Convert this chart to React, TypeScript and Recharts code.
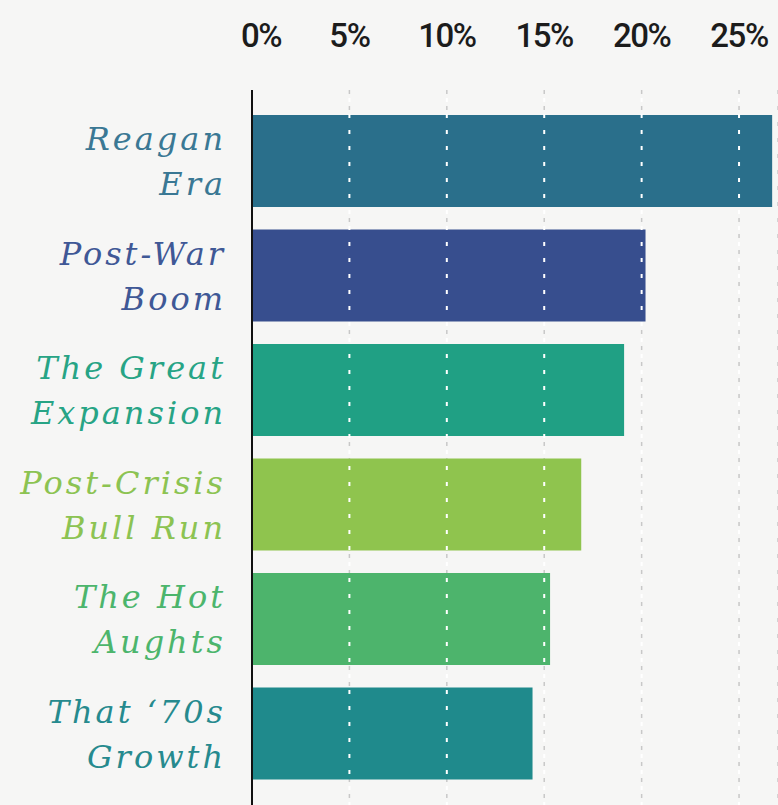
import React from 'react';
import { BarChart, Bar, XAxis, YAxis, CartesianGrid, ReferenceLine, Cell } from 'recharts';

// eras, top to bottom
const eras = [
  'Reagan\nEra',
  'Post-War\nBoom',
  'The Great\nExpansion',
  'Post-Crisis\nBull Run',
  'The Hot\nAughts',
  'That \u201870s\nGrowth',
];
// growth, in %
const growth = [26.7, 20.2, 19.1, 16.9, 15.3, 14.4];
const barColors = ['#2a6f8b', '#374e8e', '#20a084', '#8fc44e', '#4db46c', '#1f8a8c'];
const labelColors = ['#3a7894', '#3f5896', '#27a485', '#8cc352', '#4cb56c', '#268a8e'];
const xTicks = [0, 5, 10, 15, 20, 25];

const data = eras.map((name, i) => ({ name, growth: growth[i] }));

const XTick = ({ x, y, payload }: any) => (
  <text
    x={x + (payload.value === 0 ? 9 : 0)}
    y={y}
    textAnchor="middle"
    fontFamily="Roboto, sans-serif"
    fontWeight={500}
    fontSize={33}
    letterSpacing={-1.5}
    fill="#1c1c1c"
  >
    {payload.value}%
  </text>
);

const YTick = ({ x, y, payload, index }: any) => {
  const lines = String(payload.value).split('\n');
  return (
    <text
      x={x}
      y={y}
      textAnchor="end"
      fontFamily="'DejaVu Serif', serif"
      fontStyle="italic"
      fontSize={32}
      letterSpacing={3}
      fill={labelColors[index]}
    >
      <tspan x={x} dy={-11}>{lines[0]}</tspan>
      <tspan x={x} dy={45}>{lines[1]}</tspan>
    </text>
  );
};

export default function App() {
  return (
    <div style={{ position: 'absolute', left: 0, top: 0, width: 778, height: 805, background: '#f6f6f5' }}>
      <BarChart
        width={778}
        height={805}
        data={data}
        layout="vertical"
        margin={{ top: 0, right: 0, bottom: 0, left: 0 }}
      >
        <CartesianGrid horizontal={false} stroke="#c8c8c8" strokeWidth={1.5} strokeDasharray="4 12" />
        <XAxis
          type="number"
          orientation="top"
          domain={[0, 27]}
          ticks={xTicks}
          height={90}
          axisLine={false}
          tickLine={false}
          tickSize={0}
          tickMargin={43}
          tick={<XTick />}
        />
        <YAxis
          type="category"
          dataKey="name"
          width={252}
          interval={0}
          padding={{ top: 14, bottom: 14 }}
          axisLine={{ stroke: '#111', strokeWidth: 2 }}
          tickLine={false}
          tickSize={0}
          tickMargin={26}
          tick={<YTick />}
        />
        <Bar dataKey="growth" barSize={92} isAnimationActive={false}>
          {data.map((d, i) => (
            <Cell key={d.name} fill={barColors[i]} />
          ))}
        </Bar>
        {xTicks.slice(1).map((t) => (
          <ReferenceLine
            key={t}
            x={t}
            stroke="#ffffff"
            strokeWidth={2}
            strokeDasharray="4 12"
            strokeDashoffset={8}
          />
        ))}
      </BarChart>
    </div>
  );
}
